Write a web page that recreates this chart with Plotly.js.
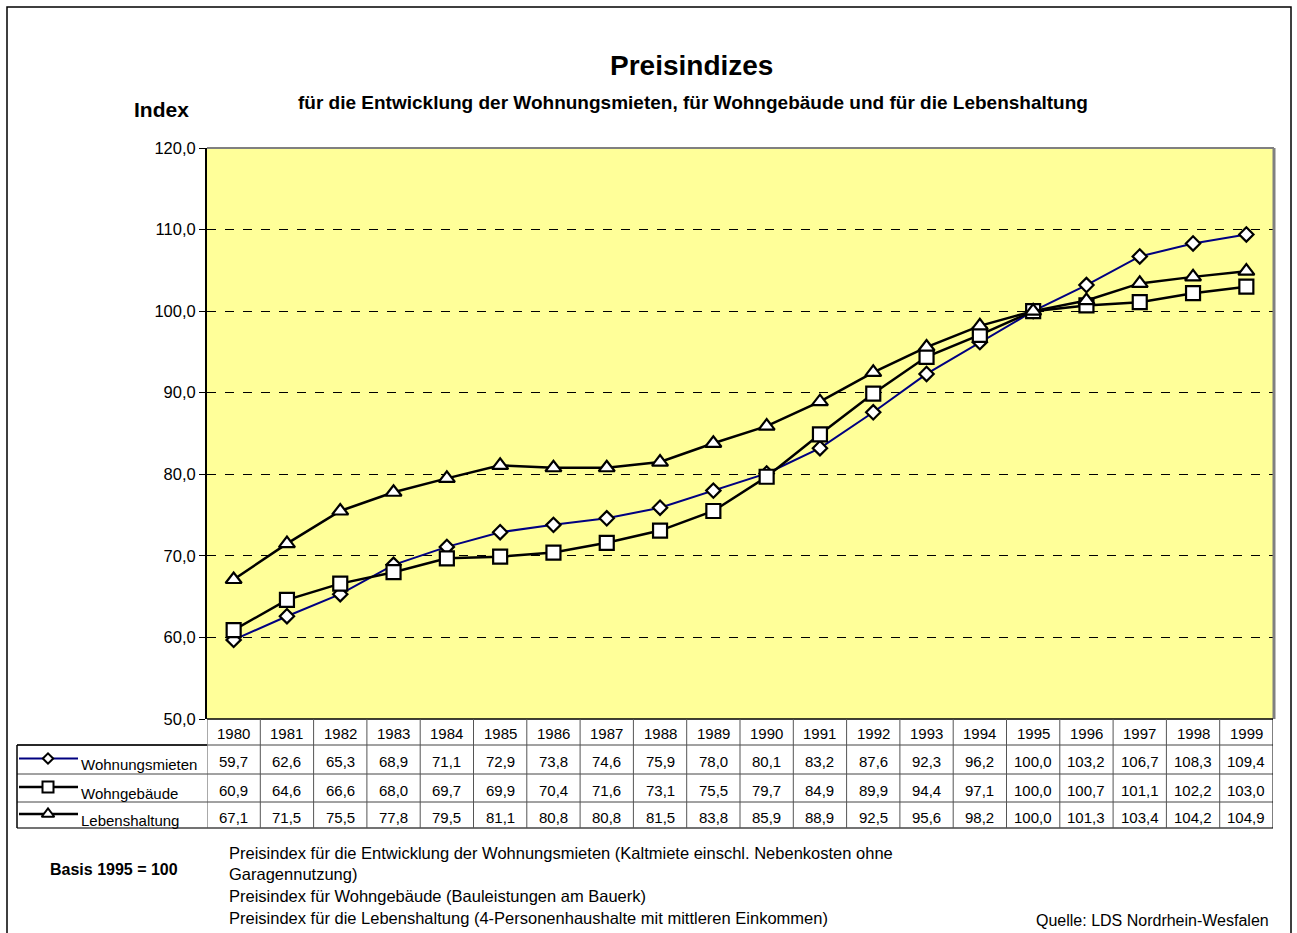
<!DOCTYPE html>
<html>
<head>
<meta charset="utf-8">
<script src="https://cdn.plot.ly/plotly-3.0.1.min.js"></script>
<style>
  html, body { margin: 0; padding: 0; background: #ffffff; }
  #chart { width: 1297px; height: 933px; }
</style>
</head>
<body>
<div id="chart"></div>
<script>
// Preisindizes 1980-1999, Basis 1995 = 100
const years = ["1980","1981","1982","1983","1984","1985","1986","1987","1988","1989",
               "1990","1991","1992","1993","1994","1995","1996","1997","1998","1999"];
const wohnungsmieten = [59.7, 62.6, 65.3, 68.9, 71.1, 72.9, 73.8, 74.6, 75.9, 78.0,
                        80.1, 83.2, 87.6, 92.3, 96.2, 100.0, 103.2, 106.7, 108.3, 109.4];
const wohngebaeude   = [60.9, 64.6, 66.6, 68.0, 69.7, 69.9, 70.4, 71.6, 73.1, 75.5,
                        79.7, 84.9, 89.9, 94.4, 97.1, 100.0, 100.7, 101.1, 102.2, 103.0];
const lebenshaltung  = [67.1, 71.5, 75.5, 77.8, 79.5, 81.1, 80.8, 80.8, 81.5, 83.8,
                        85.9, 88.9, 92.5, 95.6, 98.2, 100.0, 101.3, 103.4, 104.2, 104.9];
const seriesNames = ["Wohnungsmieten", "Wohngebäude", "Lebenshaltung"];
const yTicks = [50, 60, 70, 80, 90, 100, 110, 120];

const footnotes = [
  "Preisindex für die Entwicklung der Wohnungsmieten (Kaltmiete einschl. Nebenkosten ohne",
  "Garagennutzung)",
  "Preisindex für Wohngebäude (Bauleistungen am Bauerk)",
  "Preisindex für die Lebenshaltung (4-Personenhaushalte mit mittleren Einkommen)"
];

// page geometry (pixels)
const W = 1297, H = 933;
const plotL = 207, plotR = 1273, plotT = 148, plotB = 719;
const px = p => p / W;
const py = p => (H - p) / H;
const FONT = "Liberation Sans, Arial, sans-serif";

const styles = [
  { line: "#000080", width: 2,   symbol: "diamond",     size: 11 },
  { line: "#000000", width: 2.5, symbol: "square",      size: 14 },
  { line: "#000000", width: 2.5, symbol: "triangle-up", size: 14 }
];
const values = [wohnungsmieten, wohngebaeude, lebenshaltung];

const traces = values.map((v, k) => ({
  type: "scatter", mode: "lines+markers", name: seriesNames[k],
  x: years, y: v, xaxis: "x", yaxis: "y",
  line: { color: styles[k].line, width: styles[k].width },
  marker: { symbol: styles[k].symbol, size: styles[k].size, color: "#ffffff",
            line: { color: "#000000", width: 2.2 } },
  cliponaxis: false, hoverinfo: "x+y+name"
}));

// table rows (pixel boundaries)
const rowEdges = [719, 745, 774, 802, 828];
const tableLeft = 17;

// legend samples inside the row header cells (pixel overlay axes)
values.forEach((v, k) => {
  const yc = (rowEdges[k + 1] + rowEdges[k + 2]) / 2 - 1;
  traces.push({
    type: "scatter", mode: "lines", x: [19, 78], y: [yc, yc], xaxis: "x2", yaxis: "y2",
    line: { color: styles[k].line, width: styles[k].width }, hoverinfo: "skip", showlegend: false
  });
  traces.push({
    type: "scatter", mode: "markers", x: [48], y: [yc], xaxis: "x2", yaxis: "y2",
    marker: { symbol: styles[k].symbol, size: styles[k].size - 3, color: "#ffffff",
              line: { color: "#000000", width: 2 } },
    hoverinfo: "skip", showlegend: false
  });
});

const shapes = [];
const annotations = [];

// plot area fill and frame
shapes.push({ type: "rect", xref: "paper", yref: "paper", layer: "below",
  x0: px(plotL), x1: px(plotR), y0: py(plotB), y1: py(plotT),
  fillcolor: "#ffff99", line: { width: 0 } });
shapes.push({ type: "line", xref: "paper", yref: "paper", layer: "above",
  x0: px(plotL), x1: px(plotR + 1), y0: py(plotT), y1: py(plotT),
  line: { color: "#808080", width: 2 } });
shapes.push({ type: "line", xref: "paper", yref: "paper", layer: "above",
  x0: px(plotR + 1), x1: px(plotR + 1), y0: py(plotT), y1: py(plotB),
  line: { color: "#808080", width: 3 } });

// outer frame
shapes.push({ type: "rect", xref: "paper", yref: "paper",
  x0: px(7), x1: px(1291), y0: py(H + 5), y1: py(7),
  line: { color: "#000000", width: 1.5 } });

// table: horizontal rules
rowEdges.forEach((e, i) => {
  shapes.push({ type: "line", xref: "paper", yref: "paper",
    x0: px(i === 0 ? plotL : tableLeft), x1: px(plotR), y0: py(e), y1: py(e),
    line: { color: i === 0 ? "#000000" : "#444444", width: i === 0 || i === rowEdges.length - 1 ? 1.5 : 1 } });
});
shapes.push({ type: "line", xref: "paper", yref: "paper",
  x0: px(tableLeft), x1: px(plotL), y0: py(rowEdges[1]), y1: py(rowEdges[1]),
  line: { color: "#000000", width: 1.5 } });
// table: vertical rules at category boundaries
for (let i = 0; i <= years.length; i++) {
  shapes.push({ type: "line", xref: "x", yref: "paper",
    x0: i - 0.5, x1: i - 0.5, y0: py(rowEdges[0]), y1: py(rowEdges[rowEdges.length - 1]),
    line: { color: i === years.length ? "#000000" : "#555555", width: 1 } });
}
shapes.push({ type: "line", xref: "paper", yref: "paper",
  x0: px(tableLeft), x1: px(tableLeft), y0: py(rowEdges[1]), y1: py(rowEdges[rowEdges.length - 1]),
  line: { color: "#000000", width: 1.5 } });

// table text: years (positioned by category index)
years.forEach((yr, i) => {
  annotations.push({ xref: "x", yref: "paper", x: i, y: py((rowEdges[0] + rowEdges[1]) / 2 + 1),
    text: yr, showarrow: false, xanchor: "center", yanchor: "middle",
    font: { family: FONT, size: 15, color: "#000000" } });
});
// table text: values and row headers
values.forEach((v, k) => {
  const yc = (rowEdges[k + 1] + rowEdges[k + 2]) / 2 + 2;
  v.forEach((val, i) => {
    annotations.push({ xref: "x", yref: "paper", x: i, y: py(yc),
      text: val.toFixed(1).replace(".", ","), showarrow: false,
      xanchor: "center", yanchor: "middle",
      font: { family: FONT, size: 15, color: "#000000" } });
  });
  annotations.push({ xref: "paper", yref: "paper", x: px(79), y: py(yc + 3),
    text: seriesNames[k], showarrow: false, xanchor: "left", yanchor: "middle",
    font: { family: FONT, size: 15, color: "#000000" } });
});

// titles
annotations.push({ xref: "paper", yref: "paper", x: px(691), y: py(65),
  text: "<b>Preisindizes</b>", showarrow: false, xanchor: "center", yanchor: "middle",
  font: { family: FONT, size: 28, color: "#000000" } });
annotations.push({ xref: "paper", yref: "paper", x: px(693), y: py(102),
  text: "<b>für die Entwicklung der Wohnungsmieten, für Wohngebäude und für die Lebenshaltung</b>",
  showarrow: false, xanchor: "center", yanchor: "middle",
  font: { family: FONT, size: 19, color: "#000000" } });
annotations.push({ xref: "paper", yref: "paper", x: px(161), y: py(109),
  text: "<b>Index</b>", showarrow: false, xanchor: "center", yanchor: "middle",
  font: { family: FONT, size: 21, color: "#000000" } });

// notes
annotations.push({ xref: "paper", yref: "paper", x: px(114), y: py(869),
  text: "<b>Basis 1995 = 100</b>", showarrow: false, xanchor: "center", yanchor: "middle",
  font: { family: FONT, size: 16, color: "#000000" } });
const noteY = [853, 874, 896, 918];
footnotes.forEach((t, i) => {
  annotations.push({ xref: "paper", yref: "paper", x: px(227), y: py(noteY[i]),
    text: t, showarrow: false, xanchor: "left", yanchor: "middle",
    font: { family: FONT, size: 16.5, color: "#000000" } });
});
annotations.push({ xref: "paper", yref: "paper", x: px(1271), y: py(920),
  text: "Quelle: LDS Nordrhein-Wesfalen", showarrow: false, xanchor: "right", yanchor: "middle",
  font: { family: FONT, size: 16, color: "#000000" } });

const layout = {
  width: W, height: H,
  margin: { l: 0, r: 0, t: 0, b: 0, pad: 0 },
  paper_bgcolor: "#ffffff",
  plot_bgcolor: "rgba(0,0,0,0)",
  showlegend: false,
  separators: ",.",
  font: { family: FONT, size: 14, color: "#000000" },
  xaxis: {
    type: "category", domain: [px(plotL), px(plotR)], anchor: "y",
    range: [-0.5, years.length - 0.5], showticklabels: false, ticks: "",
    showgrid: false, zeroline: false, showline: false, fixedrange: true
  },
  yaxis: {
    domain: [py(plotB), py(plotT)], anchor: "x",
    range: [50, 120], tickvals: yTicks, tickformat: ".1f",
    ticks: "outside", ticklen: 6, tickwidth: 1, tickcolor: "#000000",
    tickfont: { family: FONT, size: 16.5, color: "#000000" },
    showline: true, linecolor: "#000000", linewidth: 2,
    showgrid: true, gridcolor: "#000000", gridwidth: 1, griddash: "dash",
    zeroline: false, fixedrange: true
  },
  xaxis2: { domain: [0, 1], anchor: "y2", range: [0, W], visible: false, fixedrange: true },
  yaxis2: { domain: [0, 1], anchor: "x2", range: [H, 0], visible: false, fixedrange: true },
  shapes: shapes,
  annotations: annotations
};

Plotly.newPlot("chart", traces, layout, { displayModeBar: false, staticPlot: true });
</script>
</body>
</html>
